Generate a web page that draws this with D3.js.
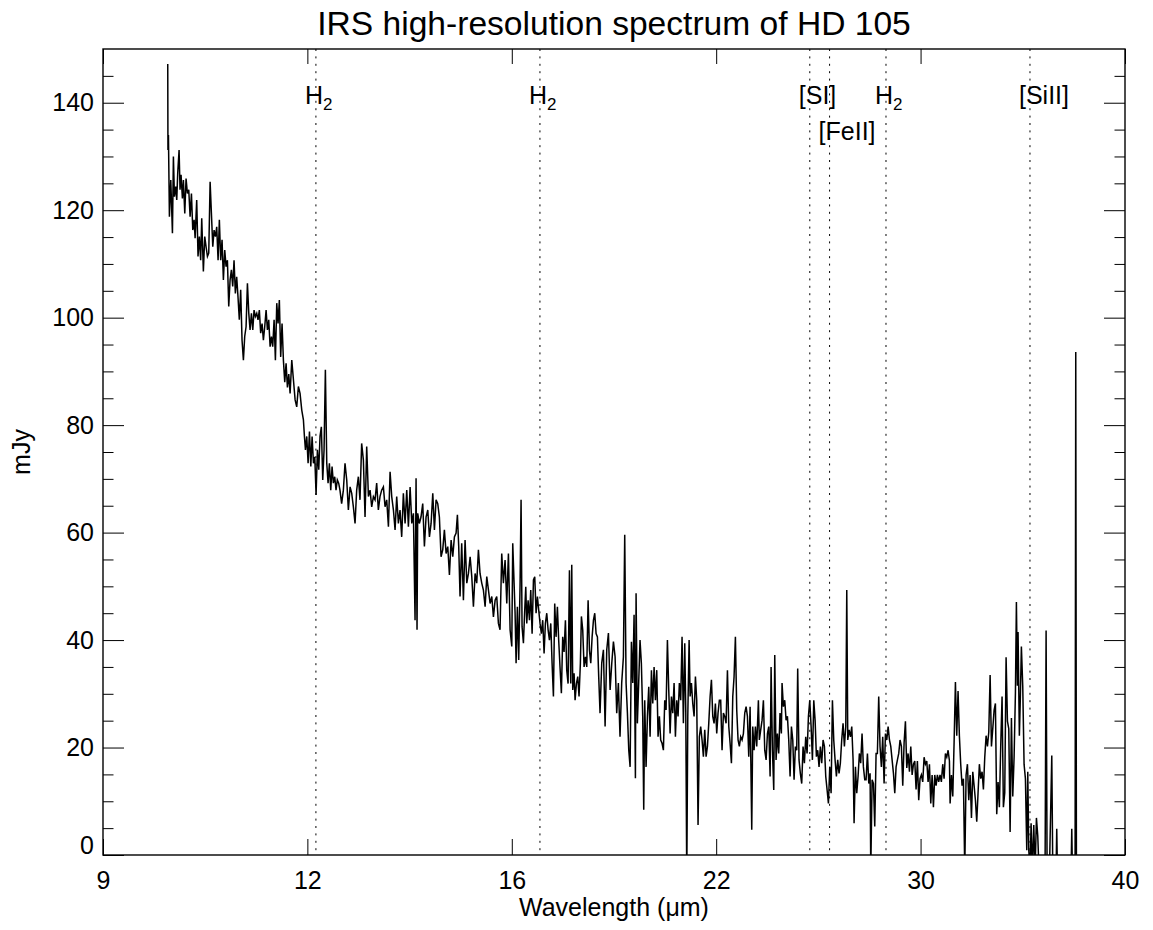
<!DOCTYPE html>
<html>
<head>
  <meta charset="utf-8">
  <title>IRS high-resolution spectrum of HD 105</title>
  <script src="https://d3js.org/d3.v7.min.js"></script>
  <style>
    body { margin: 0; background: #fff; }
    text { font-family: "Liberation Sans", Arial, Helvetica, sans-serif; fill: #000; }
  </style>
</head>
<body>
<script>

// spectrum, [wavelength (um), flux (mJy)], split in pieces
var segA = [[9.892,147.2],[9.895,131.2],[9.902,134.0],[9.916,118.8],[9.936,125.6],[9.960,115.7],[9.974,130.0],[9.989,122.5],[10.008,124.4],[10.023,121.9],[10.037,126.9],[10.057,131.2],[10.071,123.8],[10.086,126.6],[10.106,122.2],[10.121,125.6],[10.141,119.4],[10.160,125.9],[10.180,123.1],[10.200,123.8],[10.220,118.8],[10.240,123.1],[10.260,116.3],[10.280,118.2],[10.295,114.8],[10.319,121.9],[10.339,111.4],[10.359,115.1],[10.379,110.7],[10.395,118.5],[10.420,108.6],[10.441,115.1],[10.461,113.2],[10.482,111.4],[10.502,112.0],[10.523,125.3],[10.543,119.4],[10.564,113.2],[10.584,116.3],[10.605,115.1],[10.625,116.9],[10.646,110.7],[10.666,118.2],[10.687,110.7],[10.708,114.5],[10.729,107.0],[10.750,112.6],[10.771,109.5],[10.792,110.7],[10.813,102.1],[10.834,107.0],[10.855,108.9],[10.876,105.8],[10.897,110.7],[10.918,104.5],[10.939,107.6],[10.960,103.9],[10.981,99.6],[11.003,105.2],[11.025,95.8],[11.047,92.1],[11.068,96.5],[11.090,98.3],[11.112,106.4],[11.134,100.8],[11.155,97.7],[11.177,100.8],[11.199,97.7],[11.220,101.4],[11.242,100.2],[11.264,100.8],[11.285,99.6],[11.307,101.4],[11.329,97.1],[11.352,98.9],[11.374,95.8],[11.396,98.3],[11.419,101.4],[11.441,97.7],[11.463,99.6],[11.486,94.6],[11.508,96.5],[11.530,94.6],[11.553,99.6],[11.575,92.1],[11.598,102.7],[11.620,98.9],[11.642,103.3],[11.665,92.7],[11.688,98.9],[11.711,92.1],[11.734,88.0],[11.757,91.5],[11.780,87.0],[11.803,89.5]];

var segB = [[11.826,85.9],[11.855,92.1],[11.884,88.4],[11.913,84.7],[11.941,83.4],[11.970,87.2],[11.999,85.9],[12.029,82.8],[12.058,81.0],[12.076,77.9],[12.094,75.4],[12.117,77.9],[12.141,72.9],[12.165,78.8],[12.189,72.3],[12.212,77.9],[12.236,72.9],[12.260,74.1],[12.283,67.0],[12.307,75.4],[12.331,71.7],[12.354,77.9],[12.378,79.7],[12.403,69.8],[12.427,75.4],[12.451,90.3],[12.476,72.9],[12.500,69.2],[12.524,72.9],[12.549,67.9],[12.573,72.3],[12.597,69.2],[12.622,70.4],[12.646,67.9],[12.670,69.8],[12.695,69.2],[12.719,67.9]];

var segC = [[12.750,65.4],[12.782,67.9],[12.813,72.9],[12.845,69.8],[12.876,64.2],[12.908,68.5],[12.939,67.3],[12.970,64.8],[13.002,61.7],[13.033,67.9],[13.065,70.4],[13.096,66.1],[13.128,76.6],[13.161,73.5],[13.193,62.9],[13.225,76.0],[13.258,66.7],[13.290,67.9],[13.322,64.8],[13.355,66.7],[13.387,66.1],[13.419,69.2],[13.452,64.2],[13.484,66.7],[13.517,67.9],[13.551,68.5],[13.584,64.8],[13.617,66.1],[13.651,61.1],[13.684,71.3],[13.717,66.7],[13.751,64.2],[13.784,60.5],[13.817,66.7],[13.851,61.7],[13.884,64.2],[13.918,59.2],[13.952,67.3],[13.987,61.7],[14.021,67.9],[14.055,61.1],[14.090,68.5],[14.124,61.7],[14.158,63.6],[14.192,43.7],[14.213,70.1],[14.233,41.9],[14.247,63.6],[14.281,61.7],[14.316,62.9],[14.352,65.4],[14.387,57.4],[14.422,62.9],[14.458,64.2],[14.493,59.2],[14.528,61.7],[14.564,67.3],[14.599,60.5],[14.634,66.1],[14.670,65.4],[14.705,62.9],[14.741,55.5],[14.777,56.8],[14.813,60.5],[14.850,56.1],[14.886,57.4],[14.922,52.1],[14.959,58.6],[14.995,55.5],[15.031,59.2],[15.068,59.9],[15.097,63.3],[15.126,57.4],[15.155,48.1],[15.192,58.0],[15.230,47.4],[15.267,58.6],[15.305,50.6],[15.342,52.4],[15.380,55.5],[15.417,51.8],[15.454,46.2],[15.492,52.4],[15.529,50.6],[15.567,56.8],[15.604,52.4],[15.643,50.6],[15.681,49.3],[15.720,46.2],[15.758,51.8],[15.797,49.3],[15.835,46.8],[15.874,48.1],[15.912,44.3],[15.951,47.4],[15.989,48.1],[16.028,43.1],[16.066,41.9],[16.106,56.1],[16.145,50.6],[16.185,54.9],[16.225,46.8],[16.264,56.1]];

var segD = [[16.304,41.9],[16.344,38.8],[16.367,58.0],[16.399,50.6],[16.423,45.0],[16.447,35.7],[16.478,46.2],[16.510,36.3],[16.542,49.9],[16.567,66.1],[16.591,42.5],[16.624,39.4],[16.656,45.6],[16.681,49.9],[16.705,43.1],[16.738,47.4],[16.771,43.7],[16.803,49.3],[16.836,41.2],[16.869,51.2],[16.901,51.8],[16.934,45.0],[16.967,48.1],[16.999,45.6],[17.032,43.1],[17.066,41.2],[17.099,43.7],[17.133,37.5],[17.166,43.1],[17.200,45.0],[17.234,41.9],[17.267,40.0],[17.301,43.1],[17.334,35.7],[17.368,29.5],[17.401,46.8],[17.435,40.6],[17.469,46.2],[17.502,40.0],[17.536,35.0],[17.571,30.1],[17.605,40.6],[17.640,37.8],[17.675,43.7],[17.709,34.4],[17.744,31.9],[17.779,53.0],[17.813,31.9],[17.839,54.0],[17.865,30.7],[17.900,33.8],[17.926,28.8],[17.961,31.9],[17.996,33.2],[18.030,29.5],[18.065,35.7],[18.092,44.4],[18.127,41.9],[18.163,35.0],[18.199,36.9],[18.234,35.0],[18.270,47.4],[18.306,38.1],[18.341,35.7],[18.377,40.6],[18.413,43.7],[18.448,45.0],[18.484,41.2],[18.520,40.6],[18.555,33.2]];

var segE = [[18.591,26.4],[18.637,35.7],[18.683,38.2],[18.729,23.9],[18.774,38.2],[18.820,41.3],[18.866,30.7],[18.912,35.7],[18.958,39.7],[19.004,36.9],[19.049,26.4],[19.095,32.0],[19.141,22.0],[19.188,32.0],[19.236,36.9],[19.273,59.6],[19.311,32.0],[19.349,26.4],[19.387,19.5],[19.425,16.4],[19.462,39.7],[19.500,32.0],[19.538,44.7],[19.576,14.3],[19.595,48.7],[19.632,24.5],[19.670,32.0],[19.708,40.0],[19.747,35.7],[19.786,25.8],[19.815,8.4],[19.844,28.8],[19.883,16.4],[19.922,25.8],[19.961,31.3],[20.000,22.0],[20.039,34.4],[20.078,28.2],[20.117,35.0],[20.156,28.8],[20.195,34.4],[20.234,22.0],[20.273,25.8],[20.312,21.4],[20.352,20.8],[20.392,19.5],[20.432,28.8],[20.472,27.0],[20.512,40.0],[20.552,30.7],[20.593,22.6],[20.633,29.5],[20.673,26.4],[20.713,32.0],[20.753,22.0],[20.793,28.8],[20.833,25.8],[20.873,32.0],[20.914,28.8],[20.955,40.6],[20.996,24.5],[21.038,39.4],[21.069,27.0],[21.100,-5],[21.131,25.8],[21.172,40.0],[21.203,29.5],[21.244,32.0],[21.285,28.2],[21.327,25.8],[21.368,33.2],[21.409,28.8],[21.450,5.6],[21.491,22.0],[21.533,23.9],[21.576,21.4],[21.618,18.3],[21.661,23.3],[21.703,18.3],[21.746,20.2],[21.788,24.5],[21.831,29.5],[21.873,32.6],[21.916,25.8],[21.958,24.5],[22.000,28.2],[22.043,22.6],[22.085,26.4],[22.128,28.8],[22.171,28.8],[22.215,19.5],[22.259,26.4],[22.302,25.8],[22.346,24.5],[22.390,34.4],[22.434,23.9],[22.477,20.8],[22.521,17.1],[22.565,29.5],[22.608,33.2],[22.652,40.6],[22.696,27.0],[22.740,21.4],[22.783,20.2],[22.828,22.0],[22.873,21.4],[22.918,22.6],[22.963,26.4],[23.008,27.6],[23.053,25.8],[23.098,18.3]];

var segF = [[23.143,27.6],[23.199,4.7],[23.233,23.9],[23.278,19.5],[23.323,23.9],[23.368,20.2],[23.425,28.8],[23.458,21.4],[23.504,23.3],[23.551,25.1],[23.597,28.8],[23.643,19.5],[23.690,17.7],[23.736,22.6],[23.782,23.9],[23.829,14.6],[23.863,35.0],[23.910,19.5],[23.956,12.1],[23.991,37.2],[24.037,17.7],[24.083,22.6],[24.130,18.9],[24.176,26.4],[24.224,22.6],[24.248,32.0],[24.295,27.6],[24.343,28.8],[24.391,25.1],[24.439,25.8],[24.486,21.4],[24.534,14.6],[24.582,23.9],[24.630,21.4],[24.677,14.0],[24.725,20.2],[24.773,19.5],[24.808,34.7],[24.856,17.7],[24.904,15.2],[24.954,13.3],[25.003,20.2],[25.052,17.1],[25.101,22.0],[25.150,18.9],[25.200,25.8],[25.249,28.8],[25.298,23.9],[25.347,17.7],[25.397,28.8],[25.446,25.1],[25.495,18.3],[25.544,19.5],[25.593,16.4],[25.643,20.2],[25.693,17.1],[25.744,21.4],[25.795,20.2],[25.845,14.6],[25.896,12.1],[25.946,9.6],[25.997,16.4],[26.047,11.5],[26.098,28.8],[26.148,21.4],[26.199,17.7],[26.250,14.6],[26.300,17.7],[26.351,15.2],[26.402,17.1],[26.454,21.4],[26.506,24.5],[26.558,20.2],[26.611,23.9],[26.650,49.3],[26.689,21.4],[26.741,23.3],[26.793,22.0],[26.845,23.9],[26.897,17.7],[26.936,5.9],[26.989,16.4],[27.041,11.5],[27.093,14.6],[27.145,18.9],[27.198,17.1],[27.251,22.6],[27.305,16.4],[27.359,14.0],[27.412,14.0],[27.466,18.9],[27.520,13.3],[27.573,15.2],[27.600,-3],[27.654,14.0],[27.708,13.3],[27.761,5.3],[27.815,18.9],[27.868,18.9],[27.922,29.5],[27.976,20.2],[28.031,16.4],[28.086,22.0],[28.142,13.3],[28.197,22.6],[28.252,21.4],[28.308,23.9],[28.363,21.4],[28.418,20.2],[28.473,17.7],[28.529,15.2],[28.584,11.5],[28.639,16.4],[28.695,17.7],[28.750,18.9],[28.805,21.4]];

var segG = [[28.862,20.2],[28.919,12.9],[28.976,20.9],[29.032,24.9],[29.089,16.2],[29.146,18.9],[29.203,15.5],[29.260,20.2],[29.317,14.9],[29.374,16.9],[29.431,17.5],[29.487,12.2],[29.544,17.5],[29.601,10.2],[29.658,14.2],[29.716,14.9],[29.775,13.6],[29.834,18.2],[29.892,16.9],[29.951,17.5],[30.009,13.6],[30.068,16.9],[30.126,9.6],[30.185,14.9],[30.243,8.9],[30.302,14.9],[30.360,12.9],[30.419,14.9],[30.477,13.6],[30.536,14.9],[30.596,13.6],[30.657,16.9],[30.717,14.2],[30.777,18.9],[30.838,18.2],[30.898,19.5],[30.958,17.5],[30.989,9.6],[31.049,14.9],[31.109,10.9],[31.169,20.9],[31.230,32.2],[31.290,22.2],[31.350,30.5],[31.411,22.2],[31.472,16.9],[31.534,12.9],[31.596,14.2],[31.658,-3],[31.720,14.9],[31.782,16.9],[31.844,10.2],[31.907,14.9],[31.969,6.9],[32.031,15.5],[32.093,12.9],[32.155,10.2],[32.217,6.2],[32.279,11.6],[32.341,16.9],[32.404,14.2],[32.468,15.5],[32.532,12.2],[32.596,18.2],[32.660,22.2],[32.724,20.2],[32.788,22.9],[32.852,33.5],[32.916,20.2],[32.979,23.5],[33.043,26.9],[33.107,28.2],[33.171,7.6],[33.235,13.6],[33.299,8.9],[33.364,20.2],[33.430,29.5],[33.495,8.9],[33.561,11.6],[33.627,36.8],[33.693,24.9],[33.759,23.5],[33.825,4.3],[33.890,25.5],[33.956,10.9],[34.022,18.2],[34.088,30.2],[34.137,47.1],[34.187,31.5],[34.219,41.5],[34.285,22.2],[34.335,29.5],[34.386,38.8],[34.454,31.5],[34.521,16.9],[34.589,14.2],[34.657,0.9],[34.708,15.5],[34.759,0.9],[34.826,-3],[34.877,5.9],[34.945,-3],[35.013,5.6],[35.081,-3],[35.149,6.9],[35.217,3.6],[35.284,-3],[35.352,-1.1],[35.422,-3],[35.509,-3],[35.596,-3],[35.649,41.8],[35.701,-3],[35.823,-3],[35.946,18.5],[35.998,-3],[36.173,-3],[36.207,4.9],[36.243,-3],[36.974,-3],[37.010,4.9],[37.045,-3],[37.190,-3],[37.226,93.6],[37.262,-3]];

// marked emission lines
var lineWave = [12.28, 17.03, 25.25, 25.99, 28.22, 34.82];
var lineName = ["H", "H", "[SI]", "[FeII]", "H", "[SiII]"];
var lineSub  = ["2", "2", "", "", "2", ""];
var lineRow  = [0, 0, 0, 1, 0, 0];

// axes
var xTickValues = [9, 12.128, 16.344, 22.025, 29.681, 40];
var xTickLabels = ["9", "12", "16", "22", "30", "40"];
var yTickValues = [0, 20, 40, 60, 80, 100, 120, 140];
var yMinorValues = [5, 10, 15, 25, 30, 35, 45, 50, 55, 65, 70, 75, 85, 90, 95, 105, 110, 115, 125, 130, 135, 145];

var spectrum = [].concat(segA, segB, segC, segD, segE, segF, segG)
  .map(function(p){ return { w: p[0], f: p[1] }; });

var width = 1153, height = 930;
var plotLeft = 103, plotRight = 1125, plotTop = 49, plotBottom = 855;

var svg = d3.select('body')
            .append('svg')
              .attr('width', width)
              .attr('height', height);

svg.append('rect')
  .attr('width', width)
  .attr('height', height)
  .attr('fill', '#fff');

var x = d3.scaleLog().domain([9, 40]).range([plotLeft, plotRight]);
var y = d3.scaleLinear().domain([0, 150]).range([plotBottom, plotTop]);

svg.append('clipPath')
  .attr('id', 'plotclip')
  .append('rect')
    .attr('x', plotLeft)
    .attr('y', plotTop)
    .attr('width', plotRight - plotLeft)
    .attr('height', plotBottom - plotTop);

// dotted line markers
svg.append('g')
  .selectAll('line')
  .data(lineWave)
  .enter()
  .append('line')
    .attr('x1', function(d){ return x(d); })
    .attr('x2', function(d){ return x(d); })
    .attr('y1', plotTop)
    .attr('y2', plotBottom)
    .attr('stroke', '#000')
    .attr('stroke-width', 1)
    .attr('stroke-dasharray', '2,5.4');

// the spectrum
var line = d3.line()
  .x(function(d){ return x(d.w); })
  .y(function(d){ return y(d.f); });

svg.append('path')
  .datum(spectrum)
  .attr('clip-path', 'url(#plotclip)')
  .attr('fill', 'none')
  .attr('stroke', '#000')
  .attr('stroke-width', 1.5)
  .attr('d', line);

// line labels
var labels = svg.append('g')
  .selectAll('text')
  .data(lineWave)
  .enter()
  .append('text')
    .attr('x', function(d){ return x(d) - 11; })
    .attr('y', function(d, i){ return lineRow[i] ? 140 : 104; })
    .attr('font-size', 25)
    .text(function(d, i){ return lineName[i]; });

labels.filter(function(d, i){ return lineSub[i] !== ""; })
  .append('tspan')
    .attr('font-size', 17)
    .attr('dy', 6)
    .text(function(d){ return lineSub[lineWave.indexOf(d)]; });

function styleAxis(g){
  g.select('.domain').remove();
  g.selectAll('.tick line').attr('stroke', '#000').attr('stroke-width', 1);
  g.selectAll('.tick text')
    .attr('font-family', '"Liberation Sans", Arial, sans-serif')
    .attr('font-size', 25)
    .attr('fill', '#000');
}

// x axes
svg.append('g')
  .attr('transform', 'translate(0,' + plotBottom + ')')
  .call(d3.axisBottom(x)
    .tickValues(xTickValues)
    .tickFormat(function(d, i){ return xTickLabels[i]; })
    .tickSizeInner(-16)
    .tickSizeOuter(0)
    .tickPadding(16))
  .call(styleAxis);

svg.append('g')
  .attr('transform', 'translate(0,' + plotTop + ')')
  .call(d3.axisTop(x)
    .tickValues(xTickValues)
    .tickFormat('')
    .tickSizeInner(-15)
    .tickSizeOuter(0))
  .call(styleAxis);

// y axes, major and minor
var yLeft = svg.append('g')
  .attr('transform', 'translate(' + plotLeft + ',0)')
  .call(d3.axisLeft(y)
    .tickValues(yTickValues)
    .tickSizeInner(-21)
    .tickSizeOuter(0)
    .tickPadding(9))
  .call(styleAxis);

// the zero label sits on the axis rather than centred on it
yLeft.selectAll('.tick')
  .filter(function(d){ return d === 0; })
  .select('text')
    .attr('dy', '-0.05em');

svg.append('g')
  .attr('transform', 'translate(' + plotLeft + ',0)')
  .call(d3.axisLeft(y)
    .tickValues(yMinorValues)
    .tickFormat('')
    .tickSizeInner(-10.5)
    .tickSizeOuter(0))
  .call(styleAxis);

svg.append('g')
  .attr('transform', 'translate(' + plotRight + ',0)')
  .call(d3.axisRight(y)
    .tickValues(yTickValues)
    .tickFormat('')
    .tickSizeInner(-21)
    .tickSizeOuter(0))
  .call(styleAxis);

svg.append('g')
  .attr('transform', 'translate(' + plotRight + ',0)')
  .call(d3.axisRight(y)
    .tickValues(yMinorValues)
    .tickFormat('')
    .tickSizeInner(-10.5)
    .tickSizeOuter(0))
  .call(styleAxis);

// frame
svg.append('rect')
  .attr('x', plotLeft)
  .attr('y', plotTop)
  .attr('width', plotRight - plotLeft)
  .attr('height', plotBottom - plotTop)
  .attr('fill', 'none')
  .attr('stroke', '#000')
  .attr('stroke-width', 1.4);

// titles
svg.append('text')
  .attr('x', (plotLeft + plotRight) / 2)
  .attr('y', 35)
  .attr('text-anchor', 'middle')
  .attr('font-size', 33.6)
  .text('IRS high-resolution spectrum of HD 105');

svg.append('text')
  .attr('x', (plotLeft + plotRight) / 2)
  .attr('y', 916)
  .attr('text-anchor', 'middle')
  .attr('font-size', 25)
  .text('Wavelength (\u03bcm)');

svg.append('text')
  .attr('transform', 'translate(30,452) rotate(-90)')
  .attr('text-anchor', 'middle')
  .attr('font-size', 25)
  .text('mJy');

</script>
</body>
</html>
